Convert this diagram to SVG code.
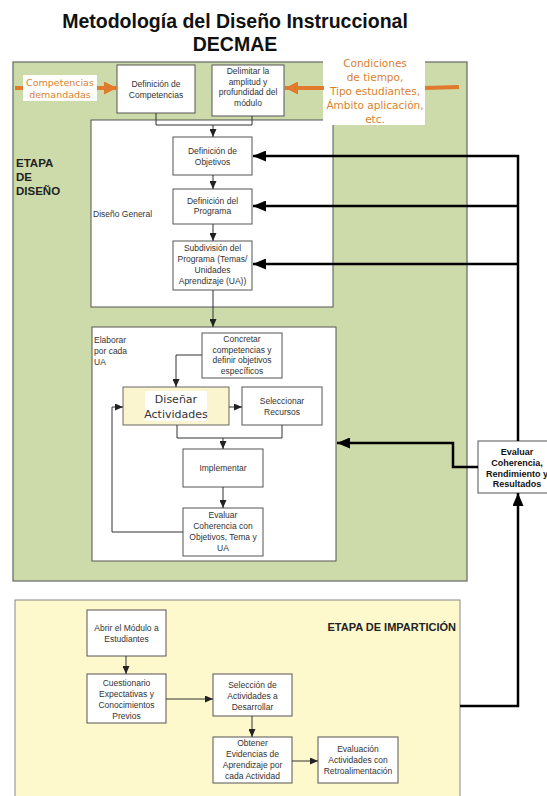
<svg xmlns="http://www.w3.org/2000/svg" width="547" height="796" viewBox="0 0 547 796">
<style>
.bg{fill:#fff}
.box{fill:#fff;stroke:#555;stroke-width:1}
.t{font-family:"Liberation Sans",Arial,sans-serif;font-size:8.5px;fill:#333;text-anchor:middle}
.tb{font-family:"Liberation Sans",Arial,sans-serif;font-size:9px;font-weight:bold;fill:#111;text-anchor:middle}
.lbl{font-family:"Liberation Sans",Arial,sans-serif;font-size:8.5px;fill:#333}
.stage{font-family:"Liberation Sans",Arial,sans-serif;font-weight:bold;fill:#222}
.comic{font-family:"DejaVu Sans",sans-serif;fill:#D9822E;text-anchor:middle}
.thin{fill:none;stroke:#333;stroke-width:1}
.thick{fill:none;stroke:#000;stroke-width:2.5}
.orange{fill:none;stroke:#E07A2C;stroke-width:4}
</style>
<defs>
<marker id="ah" markerUnits="userSpaceOnUse" markerWidth="8" markerHeight="7" refX="8" refY="3.5" orient="auto"><path d="M0,0 L8,3.5 L0,7 z" fill="#222"/></marker>
<marker id="ahT" markerUnits="userSpaceOnUse" markerWidth="13" markerHeight="11" refX="13" refY="5.5" orient="auto"><path d="M0,0 L13,5.5 L0,11 z" fill="#000"/></marker>
<marker id="ahO" markerUnits="userSpaceOnUse" markerWidth="13" markerHeight="13" refX="13" refY="6.5" orient="auto"><path d="M0,0 L13,6.5 L0,13 z" fill="#E07A2C"/></marker>
</defs>
<rect x="0" y="0" width="547" height="796" fill="#fff"/>
<g id="title" font-family="Liberation Sans,Arial,sans-serif" font-weight="bold" font-size="19.5" fill="#111" text-anchor="middle">
<text x="235" y="28">Metodología del Diseño Instruccional</text>
<text x="235" y="51">DECMAE</text>
</g>
<g id="etapa-diseno">
<rect x="13" y="62" width="454" height="519" fill="#CCDBA9" stroke="#666" stroke-width="1.2"/>
<text class="stage" font-size="11.5"><tspan x="16" y="167">ETAPA</tspan><tspan x="16" y="181">DE</tspan><tspan x="16" y="195">DISEÑO</tspan></text>
</g>
<g id="diseno-general">
<rect x="91" y="120" width="242" height="187" class="box"/>
<text class="lbl" x="93" y="217">Diseño General</text>
</g>
<g id="elaborar">
<rect x="92" y="327" width="244" height="234" class="box"/>
<text class="lbl"><tspan x="94" y="343">Elaborar</tspan><tspan x="94" y="354">por cada</tspan><tspan x="94" y="365">UA</tspan></text>
</g>
<g id="etapa-imparticion">
<rect x="15" y="600" width="445" height="200" fill="#FDF9CC" stroke="#888" stroke-width="1"/>
<text class="stage" font-size="11" x="456" y="631" text-anchor="end">ETAPA DE IMPARTICIÓN</text>
</g>
<g id="competencias-demandadas">
<rect x="23" y="75" width="74" height="26" fill="#fff"/>
<text class="comic" font-size="9.5"><tspan x="60" y="86">Competencias</tspan><tspan x="60" y="98">demandadas</tspan></text>
</g>
<g id="condiciones">
<rect x="323" y="58" width="102" height="67" fill="#fff"/>
<text class="comic" font-size="10.5"><tspan x="375" y="67">Condiciones</tspan><tspan x="375" y="81">de tiempo,</tspan><tspan x="375" y="95">Tipo estudiantes,</tspan><tspan x="375" y="109">Ámbito aplicación,</tspan><tspan x="375" y="123">etc.</tspan></text>
</g>
<g id="def-competencias">
<rect x="117" y="65" width="78" height="48" class="box"/>
<text class="t"><tspan x="156" y="87">Definición de</tspan><tspan x="156" y="97.5">Competencias</tspan></text>
</g>
<g id="delimitar">
<rect x="212" y="65" width="72" height="51" class="box"/>
<text class="t"><tspan x="248" y="74">Delimitar la</tspan><tspan x="248" y="84.5">amplitud y</tspan><tspan x="248" y="95">profundidad del</tspan><tspan x="248" y="105.5">módulo</tspan></text>
</g>
<g id="def-objetivos">
<rect x="173" y="137" width="79" height="38" class="box"/>
<text class="t"><tspan x="212.5" y="154">Definición de</tspan><tspan x="212.5" y="165">Objetivos</tspan></text>
</g>
<g id="def-programa">
<rect x="173" y="189" width="79" height="35" class="box"/>
<text class="t"><tspan x="212.5" y="203.5">Definición del</tspan><tspan x="212.5" y="214">Programa</tspan></text>
</g>
<g id="subdivision">
<rect x="173" y="241" width="79" height="49" class="box"/>
<text class="t"><tspan x="212.5" y="251">Subdivisión del</tspan><tspan x="212.5" y="262">Programa (Temas/</tspan><tspan x="212.5" y="273">Unidades</tspan><tspan x="212.5" y="284">Aprendizaje (UA))</tspan></text>
</g>
<g id="concretar">
<rect x="202" y="333" width="80" height="45" class="box"/>
<text class="t"><tspan x="242" y="342">Concretar</tspan><tspan x="242" y="352.5">competencias y</tspan><tspan x="242" y="363">definir objetivos</tspan><tspan x="242" y="373.5">específicos</tspan></text>
</g>
<g id="disenar">
<rect x="123" y="387" width="106" height="38" fill="#FAF5CF" stroke="#666" stroke-width="1"/>
<rect x="145" y="391" width="62" height="30" fill="#fff"/>
<text font-family="DejaVu Sans,sans-serif" font-size="11" fill="#333" text-anchor="middle"><tspan x="176" y="403">Diseñar</tspan><tspan x="176" y="418">Actividades</tspan></text>
</g>
<g id="seleccionar">
<rect x="242" y="387" width="80" height="38" class="box"/>
<text class="t"><tspan x="282" y="404">Seleccionar</tspan><tspan x="282" y="415">Recursos</tspan></text>
</g>
<g id="implementar">
<rect x="183" y="449" width="80" height="38" class="box"/>
<text class="t" x="223" y="471">Implementar</text>
</g>
<g id="evaluar-coherencia">
<rect x="183" y="508" width="80" height="48" class="box"/>
<text class="t"><tspan x="223" y="518">Evaluar</tspan><tspan x="223" y="529">Coherencia con</tspan><tspan x="223" y="540">Objetivos, Tema y</tspan><tspan x="223" y="551">UA</tspan></text>
</g>
<g id="evaluar-rendimiento">
<rect x="478" y="441" width="76" height="52" class="box"/>
<text class="tb"><tspan x="517" y="455">Evaluar</tspan><tspan x="517" y="466">Coherencia,</tspan><tspan x="517" y="476.5">Rendimiento y</tspan><tspan x="517" y="487">Resultados</tspan></text>
</g>
<g id="abrir">
<rect x="87" y="610" width="79" height="46" class="box"/>
<text class="t"><tspan x="126.5" y="631">Abrir el Módulo a</tspan><tspan x="126.5" y="642">Estudiantes</tspan></text>
</g>
<g id="cuestionario">
<rect x="87" y="674" width="79" height="49" class="box"/>
<text class="t"><tspan x="126.5" y="686">Cuestionario</tspan><tspan x="126.5" y="697">Expectativas y</tspan><tspan x="126.5" y="708">Conocimientos</tspan><tspan x="126.5" y="719">Previos</tspan></text>
</g>
<g id="seleccion">
<rect x="213" y="674" width="79" height="42" class="box"/>
<text class="t"><tspan x="252.5" y="688">Selección de</tspan><tspan x="252.5" y="699">Actividades a</tspan><tspan x="252.5" y="710">Desarrollar</tspan></text>
</g>
<g id="obtener">
<rect x="213" y="737" width="79" height="46" class="box"/>
<text class="t"><tspan x="252.5" y="746">Obtener</tspan><tspan x="252.5" y="757">Evidencias de</tspan><tspan x="252.5" y="768">Aprendizaje por</tspan><tspan x="252.5" y="779">cada Actividad</tspan></text>
</g>
<g id="evaluacion">
<rect x="318" y="737" width="80" height="46" class="box"/>
<text class="t"><tspan x="358" y="752">Evaluación</tspan><tspan x="358" y="763">Actividades con</tspan><tspan x="358" y="774">Retroalimentación</tspan></text>
</g>
<g id="connectors">
<path class="thin" d="M156,113 V125 H252 V116"/>
<path class="thin" d="M213,125 V137" marker-end="url(#ah)"/>
<path class="thin" d="M213,175 V189" marker-end="url(#ah)"/>
<path class="thin" d="M213,224 V241" marker-end="url(#ah)"/>
<path class="thin" d="M213,290 V327" marker-end="url(#ah)"/>
<path class="thin" d="M202,355 H176 V387" marker-end="url(#ah)"/>
<path class="thin" d="M229,407 H242" marker-end="url(#ah)"/>
<path class="thin" d="M177,425 V438 H282 V425"/>
<path class="thin" d="M223,438 V449" marker-end="url(#ah)"/>
<path class="thin" d="M223,487 V508" marker-end="url(#ah)"/>
<path class="thin" d="M183,532 H112 V407 H123" marker-end="url(#ah)"/>
<path class="thin" d="M126,656 V674" marker-end="url(#ah)"/>
<path class="thin" d="M166,699 H213" marker-end="url(#ah)"/>
<path class="thin" d="M252,716 V737" marker-end="url(#ah)"/>
<path class="thin" d="M292,761 H318" marker-end="url(#ah)"/>
<path class="thick" d="M518,441 V156 H253" marker-end="url(#ahT)"/>
<path class="thick" d="M518,206 H253" marker-end="url(#ahT)"/>
<path class="thick" d="M518,264 H253" marker-end="url(#ahT)"/>
<path class="thick" d="M478,467 H453 V443 H337" marker-end="url(#ahT)"/>
<path class="thick" d="M460,706 H518 V493" marker-end="url(#ahT)"/>
<path class="orange" d="M15,88 H23"/>
<path class="orange" d="M97,88 H117" marker-end="url(#ahO)"/>
<path class="orange" d="M324,88 H285" marker-end="url(#ahO)"/>
<path class="orange" d="M425,88 L459,87"/>
</g>
</svg>
